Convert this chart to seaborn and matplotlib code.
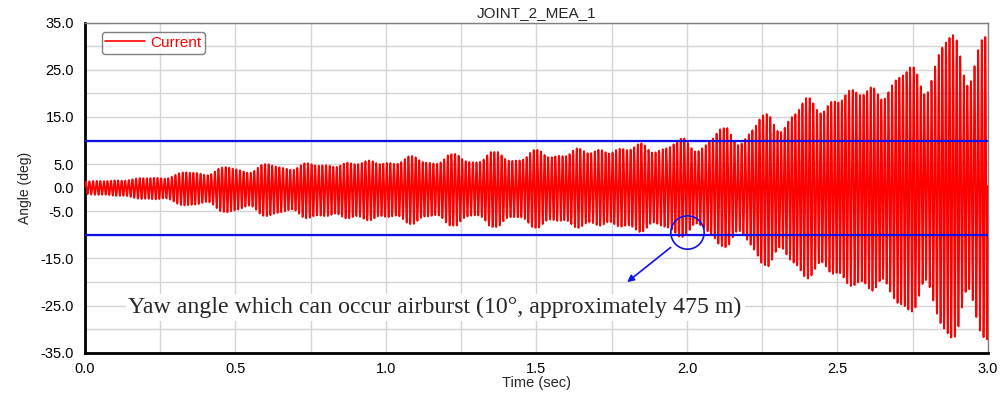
import numpy as np
import pandas as pd
import matplotlib
matplotlib.use("Agg")
import matplotlib.pyplot as plt
import seaborn as sns
from matplotlib.ticker import FixedLocator, FixedFormatter, MultipleLocator

# ---- data ----
env_time = [0.0, 0.1, 0.2, 0.3, 0.4, 0.5, 0.6, 0.7, 0.8, 0.9, 1.0,
            1.1, 1.2, 1.3, 1.4, 1.5, 1.6, 1.7, 1.8, 1.9, 2.0,
            2.1, 2.2, 2.3, 2.4, 2.5, 2.6, 2.7, 2.8, 2.9, 3.0]
env_upper = [1.5, 1.8, 2.2, 3.0, 4.0, 4.5, 5.0, 5.3, 5.5, 6.0, 6.3,
             6.8, 7.0, 7.5, 7.6, 8.0, 8.5, 9.0, 9.5, 10.0, 10.5,
             12.2, 14.0, 16.5, 19.5, 21.8, 23.5, 25.5, 29.0, 34.0, 33.0]
env_lower = [-1.5, -2.0, -2.6, -3.5, -4.5, -5.5, -6.0, -6.5, -7.0, -7.3, -7.5,
             -7.8, -8.0, -8.2, -8.4, -8.5, -8.8, -9.0, -9.5, -10.0, -10.5,
             -12.0, -14.3, -17.9, -19.6, -21.7, -23.9, -27.0, -28.7, -33.5, -33.0]
carrier_hz = [84.0, 77.3, 91.9, 69.7]
carrier_w = [0.80, 0.09, 0.07, 0.04]

threshold = [10.0, -10.0]
y_ticks = [35, 30, 25, 20, 15, 10, 5, 0, -5, -10, -15, -20, -25, -30, -35]
y_labels = ["35.0", "", "25.0", "", "15.0", "", "5.0", "0.0", "-5.0", "", "-15.0", "", "-25.0", "", "-35.0"]
x_ticks = [0.0, 0.5, 1.0, 1.5, 2.0, 2.5, 3.0]
x_labels = ["0.0", "0.5", "1.0", "1.5", "2.0", "2.5", "3.0"]

# ---- signal built from envelopes ----
t = np.linspace(0, 3.0, 12001)
s = sum(w * np.sin(2 * np.pi * f * t + k * 0.9) for k, (f, w) in enumerate(zip(carrier_hz, carrier_w)))
s = s / 0.94
up = np.interp(t, env_time, env_upper)
lo = np.interp(t, env_time, env_lower)
y = np.clip(np.where(s >= 0, s * up, -s * lo), lo, up)
df = pd.DataFrame({"Time": t, "Angle": y})

sns.set_style("white")
plt.rcParams["font.family"] = ["Liberation Sans", "DejaVu Sans"]

fig = plt.figure(figsize=(10.03, 3.94), dpi=100)
ax = fig.add_axes([85 / 1003, 1 - 352.7 / 394, (988 - 85) / 1003, (352.7 - 22.7) / 394])

sns.lineplot(data=df, x="Time", y="Angle", ax=ax, color="#ff0000", lw=1.3,
             label="Current", estimator=None, sort=False, zorder=3)
for v in threshold:
    ax.axhline(v, color="#1010e8", lw=1.6, zorder=4)

ax.set_xlim(0, 3.0)
ax.set_ylim(-35, 35)
ax.yaxis.set_major_locator(FixedLocator(y_ticks))
ax.yaxis.set_major_formatter(FixedFormatter(y_labels))
ax.xaxis.set_major_locator(FixedLocator(x_ticks))
ax.xaxis.set_major_formatter(FixedFormatter(x_labels))
ax.xaxis.set_minor_locator(MultipleLocator(0.25))
ax.grid(True, which="both", color="#d4d4d4", lw=1.0, zorder=0)
ax.set_axisbelow(True)
ax.tick_params(axis="both", which="major", direction="in", length=8, width=1.5,
               labelsize=10.5, colors="black")
ax.tick_params(axis="y", pad=8)
ax.tick_params(axis="x", pad=7)
ax.tick_params(axis="x", which="minor", length=0)
for sp in ["left", "bottom"]:
    ax.spines[sp].set_color("black")
    ax.spines[sp].set_linewidth(2)
for sp in ["top", "right"]:
    ax.spines[sp].set_color("#808080")
    ax.spines[sp].set_linewidth(1)

ax.set_title("JOINT_2_MEA_1", fontsize=11, pad=4)
ax.set_xlabel("Time (sec)", fontsize=10.5, labelpad=0)
ax.set_ylabel("Angle (deg)", fontsize=10, labelpad=6)

leg = ax.legend(loc="upper left", fontsize=11, frameon=True, fancybox=True,
                handlelength=2.6, borderpad=0.25, handletextpad=0.3,
                bbox_to_anchor=(0.01, 0.995))
leg.get_frame().set_edgecolor("#606060")
leg.get_frame().set_linewidth(1.0)
for txt in leg.get_texts():
    txt.set_color("#ff0000")
for ln in leg.get_lines():
    ln.set_linewidth(1.2)

# annotation circle and arrow
ax.plot([2.0], [-9.4], marker="o", ms=24, mfc="none", mec="#1010e8", mew=1.2, zorder=5)
ax.annotate("", xy=(1.794, -20.4), xytext=(1.953, -12.3),
            arrowprops=dict(arrowstyle="-|>", color="#1010e8", lw=1.2, mutation_scale=10),
            zorder=5)
ax.text(1.163, -25.4, "Yaw angle which can occur airburst (10°, approximately 475 m)",
        family="Liberation Serif", fontsize=17.2, va="center", ha="center",
        bbox=dict(facecolor="white", edgecolor="none", pad=2), zorder=6)

fig.savefig("out.png", dpi=100)
